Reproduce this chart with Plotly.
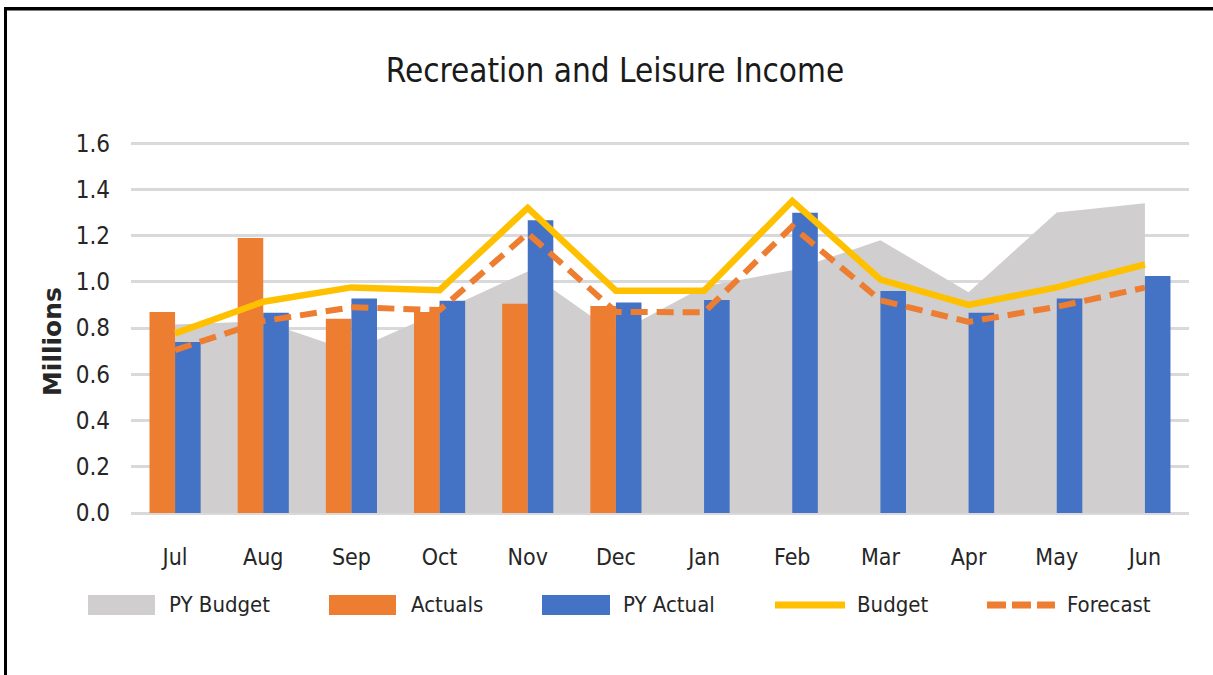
import plotly.graph_objects as go

# ---- data ----
months = ["Jul", "Aug", "Sep", "Oct", "Nov", "Dec", "Jan", "Feb", "Mar", "Apr", "May", "Jun"]
py_budget = [0.815, 0.83, 0.70, 0.87, 1.045, 0.775, 0.98, 1.05, 1.18, 0.955, 1.30, 1.34]
actuals = [0.87, 1.19, 0.84, 0.87, 0.905, 0.895, None, None, None, None, None, None]
py_actual = [0.74, 0.866, 0.928, 0.918, 1.267, 0.911, 0.921, 1.299, 0.96, 0.866, 0.928, 1.025]
budget = [0.777, 0.914, 0.976, 0.964, 1.32, 0.961, 0.961, 1.35, 1.01, 0.90, 0.976, 1.075]
forecast = [0.705, 0.83, 0.89, 0.878, 1.21, 0.87, 0.868, 1.24, 0.92, 0.827, 0.892, 0.975]
y_ticks = [0.0, 0.2, 0.4, 0.6, 0.8, 1.0, 1.2, 1.4, 1.6]

# ---- style ----
GRAY = "#D0CECE"
ORANGE = "#ED7D31"
BLUE = "#4472C4"
YELLOW = "#FFC000"
GRID = "#D9D9D9"
TXT = "#262626"
NARROW = "Liberation Sans Narrow, Arial Narrow, DejaVu Sans Condensed, sans-serif"

Y_MAX = 1.605  # a hair above 1.6 so the top gridline is drawn
W, H = 1213, 675
L, R, B = 131, 24, 162
PW = W - L - R
PH = 370 * Y_MAX / 1.6
T = H - B - PH


def px(x):
    return (x - L) / PW


def py(y):
    return (H - B - y) / PH


fig = go.Figure()

fig.add_trace(go.Scatter(
    x=months, y=py_budget, name="PY Budget", mode="lines",
    fill="tozeroy", fillcolor=GRAY, line=dict(width=0, color=GRAY),
    xaxis="x", yaxis="y", showlegend=False))

fig.add_trace(go.Bar(x=months, y=actuals, name="Actuals", marker=dict(color=ORANGE, line=dict(width=0)),
                     xaxis="x2", yaxis="y2", showlegend=False))
fig.add_trace(go.Bar(x=months, y=py_actual, name="PY Actual", marker=dict(color=BLUE, line=dict(width=0)),
                     xaxis="x2", yaxis="y2", showlegend=False))
fig.add_trace(go.Scatter(x=months, y=budget, name="Budget", mode="lines",
                         line=dict(color=YELLOW, width=6.5),
                         xaxis="x2", yaxis="y2", showlegend=False))
fig.add_trace(go.Scatter(x=months, y=forecast, name="Forecast", mode="lines",
                         line=dict(color=ORANGE, width=6, dash="17px,9px"),
                         xaxis="x2", yaxis="y2", showlegend=False))

xcommon = dict(type="category", categoryorder="array", categoryarray=months,
               range=[-0.5, len(months) - 0.5])

fig.update_layout(
    width=W, height=H,
    margin=dict(l=L, r=R, t=T, b=B),
    paper_bgcolor="white", plot_bgcolor="white",
    barmode="group", bargap=0.42, bargroupgap=0,
    showlegend=False,
    title=dict(text="Recreation and Leisure Income", x=615 / W, xanchor="center",
               y=1 - 70 / H, yanchor="middle", yref="container",
               font=dict(family=NARROW, size=33, color="#1a1a1a")),
    xaxis=dict(**xcommon, showgrid=False, showline=False, zeroline=False,
               ticks="", ticklabelstandoff=28,
               tickfont=dict(family=NARROW, size=23, color=TXT)),
    yaxis=dict(range=[0, Y_MAX], tickvals=y_ticks, tickformat=".1f",
               showgrid=True, gridcolor=GRID, gridwidth=2.5,
               zeroline=True, zerolinecolor=GRID, zerolinewidth=2.5,
               showline=False, ticks="", ticklabelstandoff=20,
               tickfont=dict(family=NARROW, size=24, color=TXT)),
    xaxis2=dict(**xcommon, overlaying="x", visible=False),
    yaxis2=dict(range=[0, Y_MAX], overlaying="y", visible=False, showgrid=False, zeroline=False),
)

# y-axis title
fig.add_annotation(text="<b>Millions</b>", textangle=-90, xref="paper", yref="paper",
                   x=px(52), y=py(342), xanchor="center", yanchor="middle", showarrow=False,
                   font=dict(family="DejaVu Sans", size=25, color=TXT))

# frame lines (top and left)
fig.add_shape(type="line", xref="paper", yref="paper", x0=px(4), x1=px(W), y0=py(8.5), y1=py(8.5),
              line=dict(color="black", width=3.5))
fig.add_shape(type="line", xref="paper", yref="paper", x0=px(5.5), x1=px(5.5), y0=py(7), y1=py(H),
              line=dict(color="black", width=3))

# custom legend
leg_y = 605
legend_items = [
    ("PY Budget", "rect", GRAY, 88, 155, 167),
    ("Actuals", "rect", ORANGE, 329, 396, 409),
    ("PY Actual", "rect", BLUE, 542, 610, 621),
    ("Budget", "line", YELLOW, 775, 845, 855),
    ("Forecast", "dash", ORANGE, 987, 1055, 1065),
]
for name, kind, color, x0, x1, tx in legend_items:
    if kind == "rect":
        fig.add_shape(type="rect", xref="paper", yref="paper", x0=px(x0), x1=px(x1),
                      y0=py(leg_y - 10), y1=py(leg_y + 10), fillcolor=color, line=dict(width=0))
    elif kind == "line":
        fig.add_shape(type="line", xref="paper", yref="paper", x0=px(x0), x1=px(x1),
                      y0=py(leg_y), y1=py(leg_y), line=dict(color=color, width=7))
    else:
        fig.add_shape(type="line", xref="paper", yref="paper", x0=px(x0), x1=px(x1),
                      y0=py(leg_y), y1=py(leg_y), line=dict(color=color, width=7, dash="19px,6px"))
    fig.add_annotation(text=name, xref="paper", yref="paper", x=px(tx), y=py(leg_y),
                       xanchor="left", yanchor="middle", showarrow=False,
                       font=dict(family=NARROW, size=22, color=TXT))

fig.write_html("out.html", config={"displayModeBar": False},
               post_script="document.body.style.margin='0';")
